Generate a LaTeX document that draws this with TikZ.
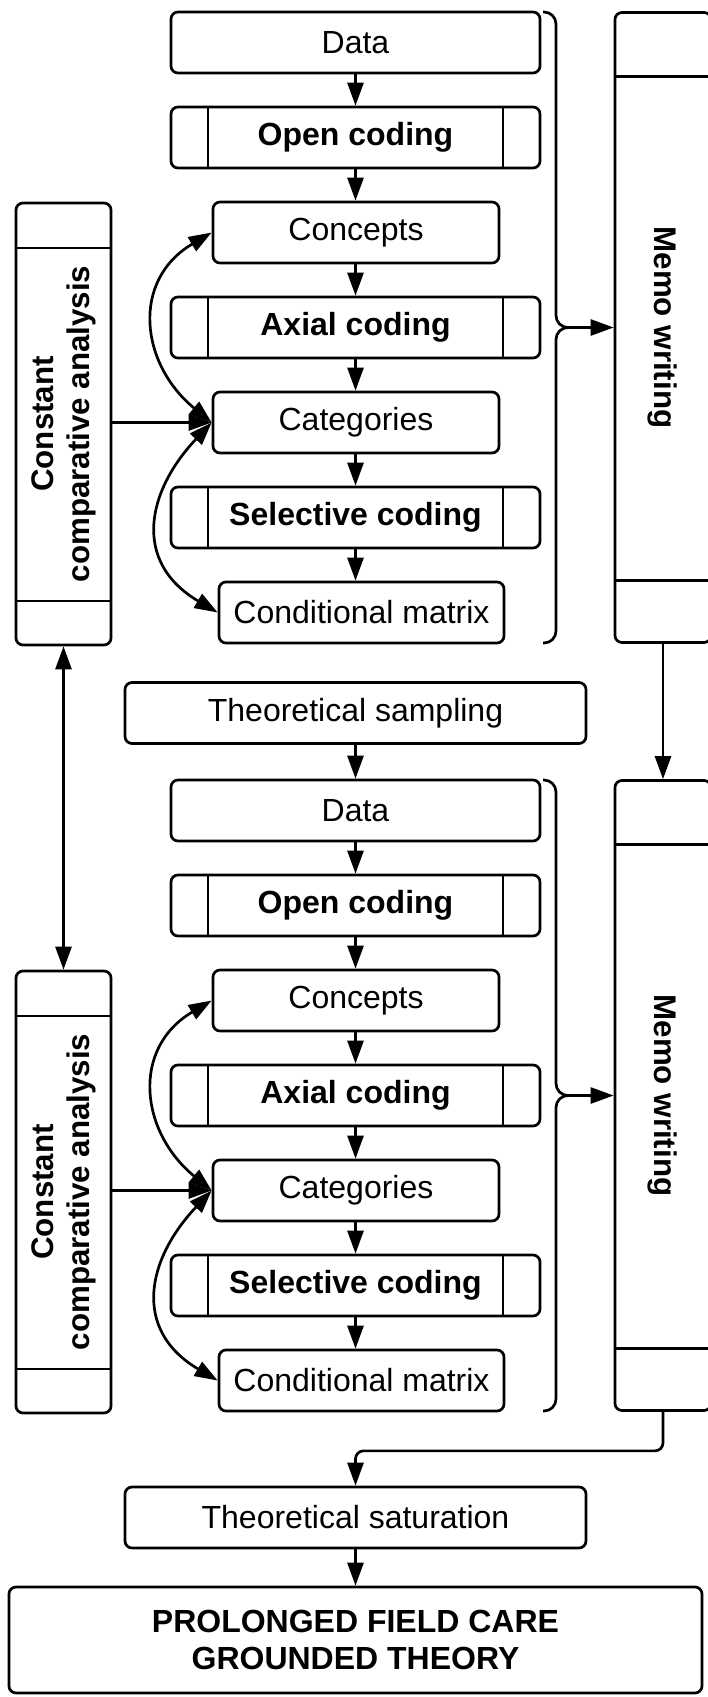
\documentclass[tikz,border=0pt]{standalone}
\usepackage{fontspec}
\setmainfont{Liberation Sans}
\usetikzlibrary{arrows.meta}
\tikzset{
  lw/.style={line width=2.7pt},
  base/.style={draw, lw, rounded corners=7pt, inner sep=0pt, font=\fontsize{32}{37}\selectfont},
  plainbox/.style={base, minimum height=61pt},
  procbox/.style={base, minimum height=61pt, minimum width=369pt, font=\fontsize{32}{37}\selectfont\bfseries,
    path picture={
      \draw[lw] ([xshift=37pt]path picture bounding box.north west) -- ([xshift=37pt]path picture bounding box.south west);
      \draw[lw] ([xshift=-37pt]path picture bounding box.north east) -- ([xshift=-37pt]path picture bounding box.south east);
    }},
  ccabox/.style={draw, lw, rounded corners=7pt, minimum width=95pt, minimum height=442pt, inner sep=0pt,
    path picture={
      \draw[lw] ([yshift=-45pt]path picture bounding box.north west) -- ([yshift=-45pt]path picture bounding box.north east);
      \draw[lw] ([yshift=44pt]path picture bounding box.south west) -- ([yshift=44pt]path picture bounding box.south east);
    }},
  memobox/.style={draw, lw, rounded corners=7pt, minimum width=96pt, minimum height=630pt, inner sep=0pt,
    path picture={
      \draw[lw] ([yshift=-64pt]path picture bounding box.north west) -- ([yshift=-64pt]path picture bounding box.north east);
      \draw[lw] ([yshift=62pt]path picture bounding box.south west) -- ([yshift=62pt]path picture bounding box.south east);
    }},
  sidetext/.style={font=\fontsize{31.3}{36}\selectfont\bfseries, align=center, inner sep=0pt},
  flow/.style={lw, -{Triangle[length=23pt,width=16pt]}},
  biflow/.style={lw, {Triangle[length=23pt,width=16pt]}-{Triangle[length=23pt,width=16pt]}},
  bracepath/.style={lw, rounded corners=12pt},
}
\begin{document}
\begin{tikzpicture}[x=1pt,y=-1pt]
\useasboundingbox (0,0) rectangle (707,1697);

\foreach \s/\o in {1/0,2/768}{
  \node[plainbox, minimum width=369pt] (d\s) at (355.5,{42.5+\o}) {Data};
  \node[procbox] (oc\s) at (355.5,{137.5+\o}) {Open coding};
  \node[plainbox, minimum width=286pt] (con\s) at (356,{232.5+\o}) {Concepts};
  \node[procbox] (ax\s) at (355.5,{327.5+\o}) {Axial coding};
  \node[plainbox, minimum width=286pt] (cat\s) at (356,{422.5+\o}) {Categories};
  \node[procbox] (sel\s) at (355.5,{517.5+\o}) {Selective coding};
  \node[plainbox, minimum width=285pt] (cm\s) at (361.5,{612.5+\o}) {Conditional matrix};

  \node[ccabox] (cca\s) at (63.5,{424+\o}) {};
  \node[sidetext, rotate=90] (ccat\s) at (cca\s.center) {Constant\\comparative analysis};

  \node[memobox] (memo\s) at (663,{327.5+\o}) {};
  \node[sidetext, rotate=-90] (memot\s) at (memo\s.center) {Memo writing};

  \draw[flow] (d\s.south) -- (d\s.south |- oc\s.north);
  \draw[flow] (oc\s.south) -- (oc\s.south |- con\s.north);
  \draw[flow] (oc\s.south |- con\s.south) -- (oc\s.south |- ax\s.north);
  \draw[flow] (ax\s.south) -- (ax\s.south |- cat\s.north);
  \draw[flow] (ax\s.south |- cat\s.south) -- (ax\s.south |- sel\s.north);
  \draw[flow] (sel\s.south) -- (sel\s.south |- cm\s.north);

  \draw[biflow] (con\s.west) .. controls (130.7,{280.5+\o}) and (140.2,{363.9+\o}) .. (cat\s.west);
  \draw[biflow] (cat\s.west) .. controls (146.5,{491.5+\o}) and (132,{562+\o}) .. (cm\s.west);
  \draw[flow] (cca\s.east |- cat\s.west) -- (cat\s.west);

  \draw[bracepath] (543,{12+\o}) -- (556,{12+\o}) -- (556,{327.5+\o}) -- (570,{327.5+\o}) coordinate (bt\s);
  \draw[bracepath] (543,{643+\o}) -- (556,{643+\o}) -- (556,{327.5+\o}) -- (570,{327.5+\o});
  \draw[flow] (bt\s) -- (memo\s.west);
}

\node[plainbox, minimum width=461pt] (ts) at (355.5,713) {Theoretical sampling};
\draw[flow] (ts.south) -- (ts.south |- d2.north);

\node[plainbox, minimum width=461pt] (sat) at (355.5,1517.5) {Theoretical saturation};
\node[base, minimum width=693pt, minimum height=106pt, font=\fontsize{32}{37}\selectfont\bfseries, align=center] (pfc) at (355.5,1640) {PROLONGED FIELD CARE\\GROUNDED THEORY};
\draw[flow] (sat.south) -- (sat.south |- pfc.north);

\draw[flow] (memo1.south) -- (memo2.north);
\draw[biflow] (cca1.south) -- (cca2.north);
\draw[flow, rounded corners=8pt] (memo2.south) -- ++(0,39) -| (sat.north);
\end{tikzpicture}
\end{document}
